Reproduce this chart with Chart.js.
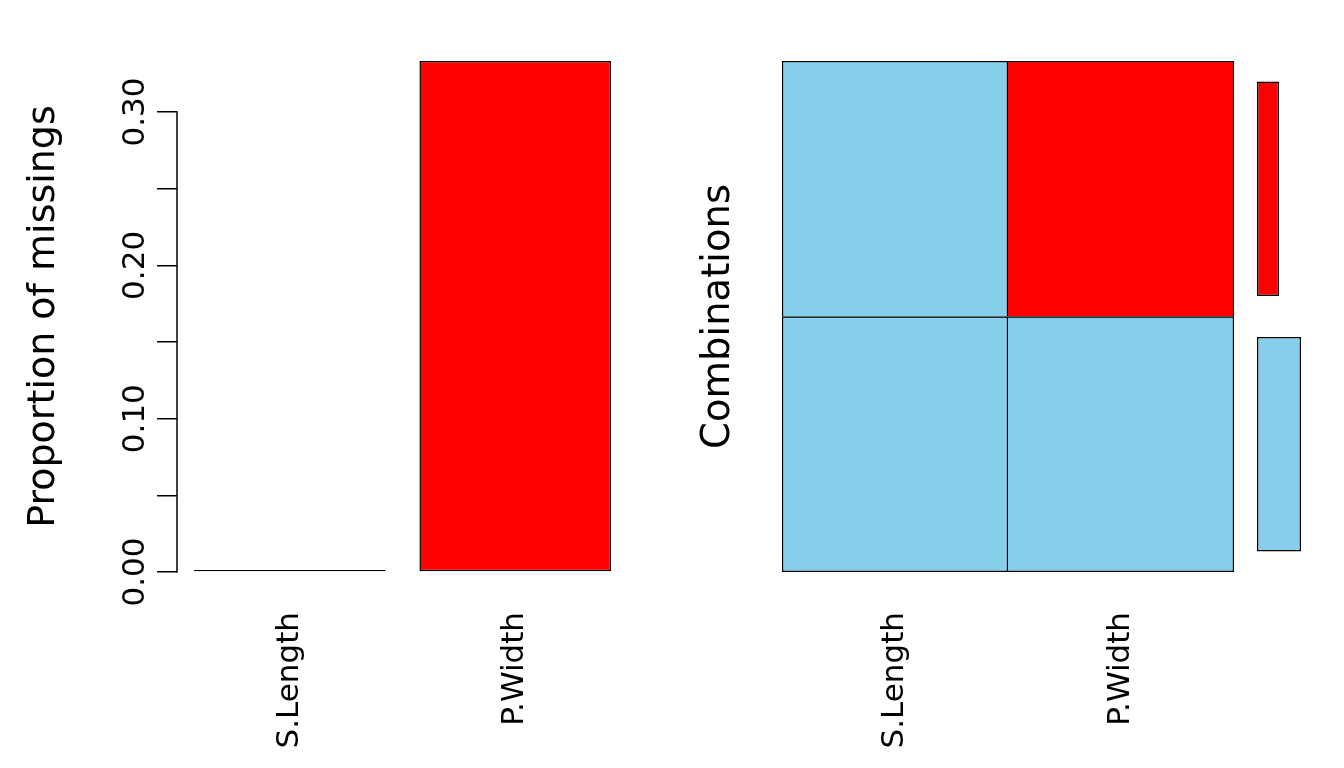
<!DOCTYPE html>
<html><head><meta charset="utf-8">
<script src="https://cdn.jsdelivr.net/npm/chart.js@4/dist/chart.umd.min.js"></script>
<style>
html,body{margin:0;padding:0;background:#fff;}
#wrap{position:relative;width:1344px;height:768px;overflow:hidden;background:#fff;}
canvas{position:absolute;top:0;}
</style></head><body>
<div id="wrap">
<canvas id="c1" style="left:0px" width="672" height="768"></canvas>
<canvas id="c2" style="left:672px" width="573" height="768"></canvas>
<canvas id="c3" style="left:1245px" width="99" height="768"></canvas>
</div>
<script>
// ---- data ----
const variables = ['S.Length', 'P.Width'];
const missingProportion = [0, 0.3333];
const yTickLabels = ['0.00', '0.10', '0.20', '0.30'];
// combination patterns, bottom row first; 1 = missing, 0 = observed
const patternObserved = [0, 0];
const patternPWidthMissing = [0, 1];
const combinationProportion = [0.6667, 0.3333]; // same order as patterns
const patternNames = ['complete', 'P.Width missing'];

const RED = '#FF0000', BLUE = '#87CEEB';
const LW = 1.5;
Chart.defaults.font.family = 'DejaVu Sans';
Chart.defaults.color = '#000';
Chart.defaults.animation = false;
Chart.defaults.plugins.legend.display = false;
Chart.defaults.plugins.tooltip.enabled = false;

// ---- left: proportion of missings ----
const yTickPlugin = {
  id: 'yTickPlugin',
  afterDraw(chart) {
    const s = chart.scales.y, ctx = chart.ctx;
    ctx.save();
    ctx.strokeStyle = '#000'; ctx.lineWidth = LW;
    const x = Math.round(s.right);
    const v0 = parseFloat(yTickLabels[0]), v1 = parseFloat(yTickLabels[yTickLabels.length - 1]);
    ctx.beginPath();
    ctx.moveTo(x, s.getPixelForValue(v0) + 0.75);
    ctx.lineTo(x, s.getPixelForValue(v1) - 0.75);
    ctx.stroke();
    ctx.fillStyle = '#000';
    ctx.font = '31px "DejaVu Sans"';
    ctx.textAlign = 'center'; ctx.textBaseline = 'alphabetic';
    yTickLabels.forEach(lbl => {
      const y = s.getPixelForValue(parseFloat(lbl));
      ctx.save(); ctx.translate(144, y); ctx.rotate(-Math.PI / 2);
      ctx.fillText(lbl, 0, 0); ctx.restore();
    });
    ctx.restore();
  }
};

new Chart(document.getElementById('c1'), {
  type: 'bar',
  data: {
    labels: variables,
    datasets: [{
      data: missingProportion,
      backgroundColor: RED,
      borderColor: '#000', borderWidth: LW, borderSkipped: false,
      minBarLength: 2,
      barPercentage: 0.85, categoryPercentage: 1
    }]
  },
  options: {
    responsive: false,
    layout: { padding: { left: 0, top: 61, right: 44, bottom: 0 } },
    scales: {
      x: {
        offset: true,
        grid: { display: false, drawTicks: false },
        border: { display: false },
        ticks: { minRotation: 90, maxRotation: 90, padding: 40, font: { size: 31 }, color: '#000' },
        afterFit(s) { s.height = 196; }
      },
      y: {
        min: 0, max: 0.3333,
        grid: { display: true, drawOnChartArea: false, drawTicks: true, tickLength: 20, tickColor: '#000', color: '#000', lineWidth: LW },
        border: { display: false },
        ticks: { stepSize: 0.05, includeBounds: false, display: false },
        afterBuildTicks(s) { s.ticks = s.ticks.filter(t => t.value <= 0.3 + 1e-9); },
        title: { display: true, text: 'Proportion of missings', font: { size: 38 }, color: '#000', padding: { top: 21, bottom: 0 } },
        afterFit(s) { s.width = 177; }
      }
    }
  },
  plugins: [yTickPlugin]
});

// ---- middle: combinations grid ----
const patterns = [patternObserved, patternPWidthMissing];
new Chart(document.getElementById('c2'), {
  type: 'bar',
  data: {
    labels: variables,
    datasets: patterns.map((p, r) => ({
      label: patternNames[r],
      data: variables.map(() => 1),
      backgroundColor: p.map(m => m ? RED : BLUE),
      borderColor: '#000',
      borderSkipped: false,
      borderWidth: (c) => ({ left: c.dataIndex === 0 ? LW : 0, right: LW, top: LW, bottom: r === 0 ? LW : 0 }),
      barPercentage: 1, categoryPercentage: 1
    }))
  },
  options: {
    responsive: false,
    layout: { padding: { left: 0, top: 61, right: 11, bottom: 0 } },
    scales: {
      x: {
        stacked: true, offset: true,
        grid: { display: false, drawTicks: false },
        border: { display: false },
        ticks: { minRotation: 90, maxRotation: 90, padding: 40, font: { size: 31 }, color: '#000' },
        afterFit(s) { s.height = 196; }
      },
      y: {
        stacked: true, min: 0, max: patterns.length,
        grid: { display: false, drawTicks: false },
        border: { display: false },
        ticks: { display: false },
        title: { display: true, text: 'Combinations', font: { size: 38.5 }, color: '#000', padding: { top: 24, bottom: 0 } },
        afterFit(s) { s.width = 110; }
      }
    }
  }
});

// ---- right: proportion of each combination ----
const sideLabels = patternNames.slice().reverse();
const sideValues = combinationProportion.slice().reverse();
const sideColors = patterns.slice().reverse().map(p => p.some(m => m) ? RED : BLUE);
new Chart(document.getElementById('c3'), {
  type: 'bar',
  data: {
    labels: sideLabels,
    datasets: [{
      data: sideValues,
      backgroundColor: sideColors,
      borderColor: '#000', borderWidth: LW, borderSkipped: false,
      barPercentage: 0.84, categoryPercentage: 1
    }]
  },
  options: {
    responsive: false,
    indexAxis: 'y',
    layout: { padding: { left: 12, top: 61, right: 21, bottom: 196 } },
    scales: {
      x: { display: false, min: 0, max: 1 },
      y: { display: false, offset: true }
    }
  }
});
</script>
</body></html>
